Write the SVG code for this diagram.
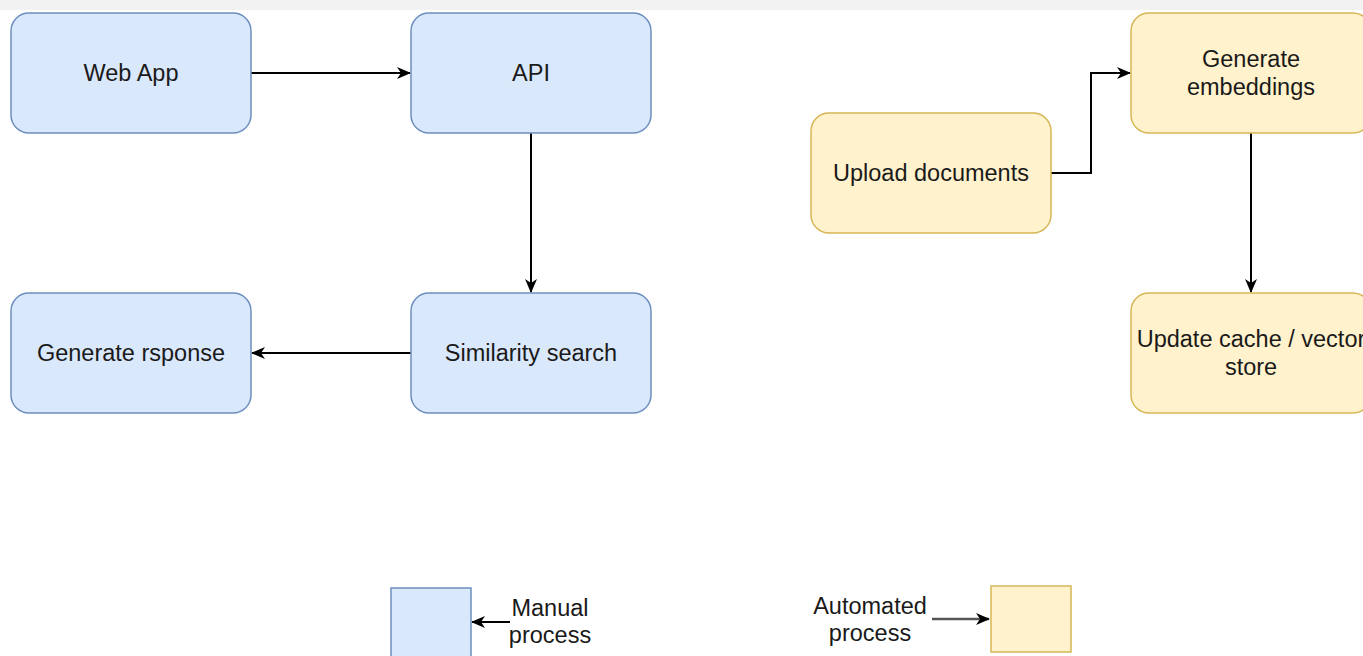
<svg xmlns="http://www.w3.org/2000/svg" width="1363" height="656" viewBox="0 0 1363 656">
  <style>
    .blue { fill: #dae8fc; stroke: #6c8ebf; stroke-width: 1.5; }
    .orange { fill: #fff2cc; stroke: #d6b656; stroke-width: 1.5; }
    .lbl { font-family: "Liberation Sans", Arial, Helvetica, sans-serif; font-size: 23.5px; fill: #1a1a1a; text-anchor: middle; }
    .edge { fill: none; stroke: #000; stroke-width: 2; }
    .edge-gray { fill: none; stroke: #555; stroke-width: 2.5; }
  </style>
  <defs>
    <marker id="arr" viewBox="0 0 14 12" refX="13" refY="6" markerWidth="14" markerHeight="12" markerUnits="userSpaceOnUse" orient="auto">
      <path d="M0,0 L14,6 L0,12 L4,6 Z" fill="#000"/>
    </marker>
  </defs>
  <rect x="0" y="0" width="1363" height="656" fill="#ffffff"/>
  <rect x="0" y="0" width="1363" height="10" fill="#f2f2f2"/>

  <g id="connectors">
    <path class="edge" d="M251,73 L410,73" marker-end="url(#arr)"/>
    <path class="edge" d="M531,133 L531,292" marker-end="url(#arr)"/>
    <path class="edge" d="M411,353 L252,353" marker-end="url(#arr)"/>
    <path class="edge" d="M1051,173 L1091,173 L1091,73 L1130,73" marker-end="url(#arr)"/>
    <path class="edge" d="M1251,133 L1251,292" marker-end="url(#arr)"/>
    <path class="edge" d="M510,622 L472,622" marker-end="url(#arr)"/>
    <path class="edge-gray" d="M932,619 L989,619" marker-end="url(#arr)"/>
  </g>

  <g id="web-app">
    <rect class="blue" x="11" y="13" width="240" height="120" rx="18" ry="18"/>
    <text class="lbl" x="131" y="81">Web App</text>
  </g>
  <g id="api">
    <rect class="blue" x="411" y="13" width="240" height="120" rx="18" ry="18"/>
    <text class="lbl" x="531" y="81">API</text>
  </g>
  <g id="similarity-search">
    <rect class="blue" x="411" y="293" width="240" height="120" rx="18" ry="18"/>
    <text class="lbl" x="531" y="361">Similarity search</text>
  </g>
  <g id="generate-response">
    <rect class="blue" x="11" y="293" width="240" height="120" rx="18" ry="18"/>
    <text class="lbl" x="131" y="361">Generate rsponse</text>
  </g>
  <g id="upload-documents">
    <rect class="orange" x="811" y="113" width="240" height="120" rx="18" ry="18"/>
    <text class="lbl" x="931" y="181">Upload documents</text>
  </g>
  <g id="generate-embeddings">
    <rect class="orange" x="1131" y="13" width="240" height="120" rx="18" ry="18"/>
    <text class="lbl" x="1251" y="67">Generate</text>
    <text class="lbl" x="1251" y="95">embeddings</text>
  </g>
  <g id="update-cache">
    <rect class="orange" x="1131" y="293" width="240" height="120" rx="18" ry="18"/>
    <text class="lbl" x="1251" y="347">Update cache / vector</text>
    <text class="lbl" x="1251" y="375">store</text>
  </g>

  <g id="legend-manual">
    <rect class="blue" x="391" y="588" width="80" height="80"/>
    <text class="lbl" x="550" y="616">Manual</text>
    <text class="lbl" x="550" y="643">process</text>
  </g>
  <g id="legend-automated">
    <rect class="orange" x="991" y="586" width="80" height="66"/>
    <text class="lbl" x="870" y="614">Automated</text>
    <text class="lbl" x="870" y="641">process</text>
  </g>
</svg>
